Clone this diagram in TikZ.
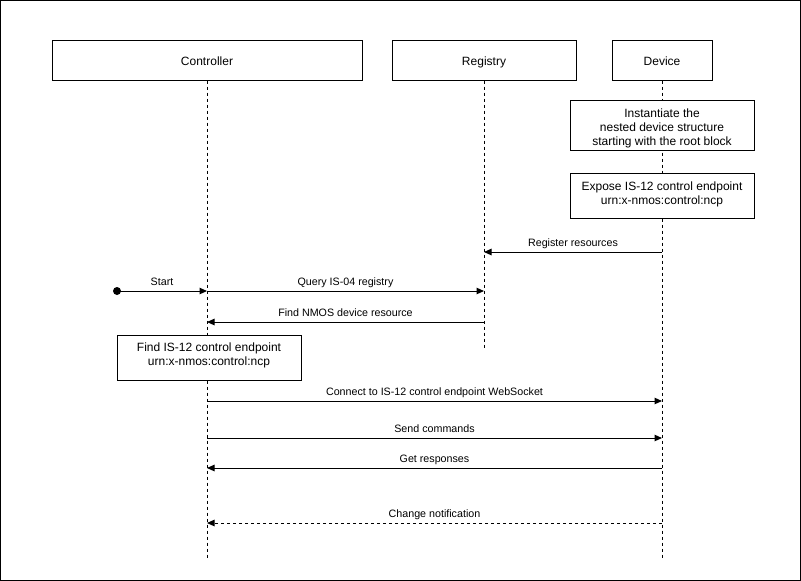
\documentclass[tikz,border=0pt]{standalone}
\usepackage{fontspec}
\setmainfont{Liberation Sans}
\usetikzlibrary{arrows.meta}
\begin{document}
\begin{tikzpicture}[x=1pt,y=-1pt,line width=1pt,
  actor/.style={draw,rectangle,minimum height=40pt,inner sep=0pt,text height=11.4pt,text depth=0pt,font=\fontsize{12}{14}\selectfont},
  note/.style={draw,rectangle,fill=white,inner sep=0pt,minimum width=184pt},
  notetext/.style={inner sep=0pt,align=center,font=\fontsize{12}{14}\selectfont},
  life/.style={dash pattern=on 3pt off 3pt,line width=0.8pt},
  msg/.style={-{Triangle[length=7.5pt,width=6.5pt]}},
  rmsg/.style={msg,dash pattern=on 3pt off 3pt},
  lbl/.style={font=\fontsize{10.7}{12}\selectfont,inner sep=0pt,text height=7.8pt,text depth=2.2pt}]
\useasboundingbox (0,0) rectangle (801,581);
\draw (0.5,0.5) rectangle (800.5,580.5);
% actors
\node[actor,minimum width=310pt] (ctl) at (207,60) {Controller};
\node[actor,minimum width=184pt] (reg) at (484,60) {Registry};
\node[actor,minimum width=100pt] (dev) at (662,60) {Device};
% lifeline ends
\coordinate (ctlE) at (207,558);
\coordinate (regE) at (484,348);
\coordinate (devE) at (662,558);
\draw[life] (ctl.south) -- (ctlE);
\draw[life] (reg.south) -- (regE);
\draw[life] (dev.south) -- (devE);
% notes
\node[note,minimum height=50pt] (inst) at (662,125) {};
\node[notetext] (instT) at ([yshift=-3pt]inst.center) {Instantiate the\\nested device structure\\starting with the root block};
\node[note,minimum height=45pt] (expo) at (662,195.5) {};
\node[notetext] (expoT) at ([yshift=1.5pt]expo.center) {Expose IS-12 control endpoint\\urn:x-nmos:control:ncp};
\node[note,minimum height=45pt] (find) at (209,357.5) {};
\node[notetext] (findT) at ([yshift=2.5pt]find.center) {Find IS-12 control endpoint\\urn:x-nmos:control:ncp};
% message points
\coordinate (d1) at (662,252); \coordinate (r1) at (484,252);
\coordinate (s0) at (117,291); \coordinate (c2) at (207,291);
\coordinate (r2) at (484,291);
\coordinate (r3) at (484,322); \coordinate (c3) at (207,322);
\coordinate (c4) at (207,401); \coordinate (d4) at (662,401);
\coordinate (c5) at (207,438); \coordinate (d5) at (662,438);
\coordinate (d6) at (662,468); \coordinate (c6) at (207,468);
\coordinate (d7) at (662,523); \coordinate (c7) at (207,523);
\fill (s0) circle (4pt);
\draw[msg] (d1) -- node[lbl,above=3pt] {Register resources} (r1);
\draw[msg] (s0) -- node[lbl,above=3pt] {Start} (c2);
\draw[msg] (c2) -- node[lbl,above=3pt] {Query IS-04 registry} (r2);
\draw[msg] (r3) -- node[lbl,above=3pt] {Find NMOS device resource} (c3);
\draw[msg] (c4) -- node[lbl,above=3pt] {Connect to IS-12 control endpoint WebSocket} (d4);
\draw[msg] (c5) -- node[lbl,above=3pt] {Send commands} (d5);
\draw[msg] (d6) -- node[lbl,above=3pt] {Get responses} (c6);
\draw[rmsg] (d7) -- node[lbl,above=3pt] {Change notification} (c7);
\end{tikzpicture}
\end{document}
